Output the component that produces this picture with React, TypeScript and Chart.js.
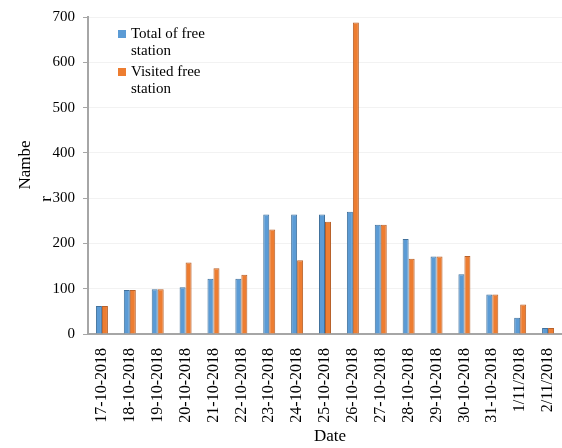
import React, { useEffect, useRef } from "react";
import { Chart, registerables } from "chart.js";

Chart.register(...registerables);

const dates = [
  "17-10-2018", "18-10-2018", "19-10-2018", "20-10-2018", "21-10-2018",
  "22-10-2018", "23-10-2018", "24-10-2018", "25-10-2018", "26-10-2018",
  "27-10-2018", "28-10-2018", "29-10-2018", "30-10-2018", "31-10-2018",
  "1/11/2018", "2/11/2018",
];
const totalFree = [62, 97, 99, 103, 122, 122, 264, 264, 264, 270, 241, 210, 171, 132, 87, 36, 13];
const visitedFree = [62, 97, 99, 158, 145, 131, 231, 163, 248, 688, 241, 166, 171, 172, 87, 65, 13];
const seriesNames = [["Total of free", "station"], ["Visited free", "station"]];

const FONT = '"Liberation Serif", "Times New Roman", serif';

// legend and axis titles drawn by hand (wrapped like the original)
const textPlugin = {
  id: "textPlugin",
  afterDraw(chart: any) {
    const { ctx } = chart;
    ctx.save();
    ctx.fillStyle = "#000";
    ctx.font = `17px ${FONT}`;
    ctx.textAlign = "center";
    ctx.textBaseline = "middle";
    ctx.fillText("Date", 330, 437);

    ctx.save();
    ctx.translate(26, 165);
    ctx.rotate(-Math.PI / 2);
    ctx.fillText("Nambe", 0, 0);
    ctx.restore();
    ctx.save();
    ctx.translate(47, 199);
    ctx.rotate(-Math.PI / 2);
    ctx.fillText("r", 0, 0);
    ctx.restore();

    ctx.font = `15px ${FONT}`;
    ctx.textAlign = "left";
    chart.data.datasets.forEach((ds: any, i: number) => {
      const y0 = 34 + i * 38;
      ctx.fillStyle = ds.backgroundColor;
      ctx.fillRect(118, y0 - 4, 8, 8);
      ctx.fillStyle = "#000";
      seriesNames[i].forEach((line, j) => ctx.fillText(line, 131, y0 + j * 17));
    });
    ctx.restore();
  },
};

const App: React.FC = () => {
  const chartRef = useRef<HTMLCanvasElement>(null);

  useEffect(() => {
    if (!chartRef.current) return;
    const ctx = chartRef.current.getContext("2d");
    if (!ctx) return;
    const chart = new Chart(ctx, {
      type: "bar",
      data: {
        labels: dates,
        datasets: [
          {
            label: "Total of free station",
            data: totalFree,
            backgroundColor: "#5B9BD5",
            borderColor: "#41719C",
            borderWidth: 1,
            barPercentage: 1,
            categoryPercentage: 0.43,
          },
          {
            label: "Visited free station",
            data: visitedFree,
            backgroundColor: "#ED7D31",
            borderColor: "#B8612A",
            borderWidth: 1,
            barPercentage: 1,
            categoryPercentage: 0.43,
          },
        ],
      },
      options: {
        responsive: false,
        animation: false,
        layout: { padding: { top: 17, right: 0, left: 0, bottom: 0 } },
        scales: {
          x: {
            grid: { display: false },
            border: { color: "#A6A6A6", width: 2 },
            ticks: {
              color: "#000",
              font: { family: FONT, size: 16 },
              minRotation: 90,
              maxRotation: 90,
              padding: 6,
            },
            afterFit: (scale: any) => {
              scale.height = 114;
              scale.paddingLeft = 0;
              scale.paddingRight = 0;
            },
          },
          y: {
            min: 0,
            max: 700,
            grid: { color: "#F2F2F2", tickLength: 5, tickColor: "#A6A6A6" },
            border: { color: "#A6A6A6", width: 2 },
            ticks: {
              stepSize: 100,
              color: "#000",
              font: { family: FONT, size: 15 },
              padding: 8,
            },
            afterFit: (scale: any) => {
              scale.width = 88;
            },
          },
        },
        plugins: {
          legend: { display: false },
          tooltip: { enabled: false },
        },
      },
      plugins: [textPlugin],
    });
    return () => chart.destroy();
  }, []);

  return (
    <div style={{ position: "fixed", left: 0, top: 0, width: 562, height: 448, background: "#fff" }}>
      <canvas ref={chartRef} width={562} height={448} style={{ width: 562, height: 448 }}></canvas>
    </div>
  );
};

export default App;
